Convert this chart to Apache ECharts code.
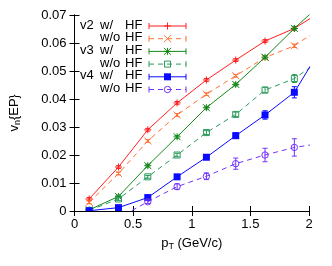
<!DOCTYPE html>
<html>
<head>
<meta charset="utf-8">
<script src="https://cdn.jsdelivr.net/npm/echarts@6/dist/echarts.min.js"></script>
<style>html,body{margin:0;padding:0;background:#fff}#c{width:332px;height:266px}</style>
</head>
<body>
<div id="c"></div>
<script>
// pT bin centres (last one lies beyond the axis end; only its line segment shows)
const pT = [0.125, 0.375, 0.625, 0.875, 1.125, 1.375, 1.625, 1.875, 2.125];
const v2With    = [0.0043, 0.0157, 0.0290, 0.0386, 0.0468, 0.0539, 0.0607, 0.0652, 0.0718];
const v2Without = [0.0031, 0.0134, 0.0250, 0.0343, 0.0417, 0.0483, 0.0548, 0.0590, 0.0660];
const v3With    = [0.0004, 0.0052, 0.0162, 0.0265, 0.0369, 0.0452, 0.0549, 0.0652, 0.0748];
const v3Without = [0.0002, 0.0043, 0.0122, 0.0200, 0.0280, 0.0345, 0.0432, 0.0473, 0.0547];
const v4With    = [0.0001, 0.0012, 0.0048, 0.0122, 0.0192, 0.0269, 0.0343, 0.0424, 0.0596];
const v4Without = [-0.0040, -0.0025, 0.0033, 0.0087, 0.0124, 0.0169, 0.0200, 0.0227, 0.0243];
const v2WithErr    = [0.0005, 0.0005, 0.0005, 0.0005, 0.0005, 0.0005, 0.0005, 0.0006, 0.0006];
const v2WithoutErr = [0.0005, 0.0005, 0.0005, 0.0005, 0.0005, 0.0005, 0.0005, 0.0006, 0.0006];
const v3WithErr    = [0.0004, 0.0005, 0.0005, 0.0005, 0.0005, 0.0005, 0.0005, 0.0006, 0.0006];
const v3WithoutErr = [0.0003, 0.0005, 0.0005, 0.0006, 0.0007, 0.0008, 0.0010, 0.0014, 0.0014];
const v4WithErr    = [0.0002, 0.0003, 0.0004, 0.0005, 0.0007, 0.0010, 0.0015, 0.0020, 0.0020];
const v4WithoutErr = [0.0003, 0.0004, 0.0006, 0.0010, 0.0012, 0.0020, 0.0024, 0.0031, 0.0031];
const harmonics = ['v2', '', 'v3', '', 'v4', ''];
const conditions = ['w/', 'w/o', 'w/', 'w/o', 'w/', 'w/o'];
const yTicks = [0, 0.01, 0.02, 0.03, 0.04, 0.05, 0.06, 0.07];
const xTicks = [0, 0.5, 1, 1.5, 2];

const FONT = 'Liberation Sans';
const FS = 13;
const seriesDefs = [
  {vals: v2With,    errs: v2WithErr,    color: '#ff1f1f', dashed: false, marker: 'plus'},
  {vals: v2Without, errs: v2WithoutErr, color: '#ff7033', dashed: true,  marker: 'cross'},
  {vals: v3With,    errs: v3WithErr,    color: '#15891a', dashed: false, marker: 'star'},
  {vals: v3Without, errs: v3WithoutErr, color: '#2a9a5c', dashed: true,  marker: 'osquare'},
  {vals: v4With,    errs: v4WithErr,    color: '#0a0aff', dashed: false, marker: 'fsquare'},
  {vals: v4Without, errs: v4WithoutErr, color: '#7233ff', dashed: true,  marker: 'ocircle'}
];

function markerShapes(type, cx, cy, color) {
  const st = {stroke: color, lineWidth: 1, fill: null};
  const h = 3.5;
  const ln = (x1, y1, x2, y2) => ({type: 'line', shape: {x1, y1, x2, y2}, style: st});
  const plus = [ln(cx - h, cy, cx + h, cy), ln(cx, cy - h, cx, cy + h)];
  const cross = [ln(cx - h, cy - h, cx + h, cy + h), ln(cx - h, cy + h, cx + h, cy - h)];
  switch (type) {
    case 'plus': return plus;
    case 'cross': return cross;
    case 'star': return plus.concat(cross);
    case 'osquare': return [{type: 'rect', shape: {x: cx - 3, y: cy - 3, width: 6, height: 6}, style: st}];
    case 'fsquare': return [{type: 'rect', shape: {x: cx - 3.5, y: cy - 3.5, width: 7, height: 7}, style: {fill: color}}];
    case 'ocircle': return [{type: 'circle', shape: {cx, cy, r: 3.2}, style: st}];
  }
  return [];
}

const series = [];
seriesDefs.forEach((d) => {
  series.push({
    type: 'line',
    data: pT.map((x, i) => [x, d.vals[i]]),
    symbol: 'none',
    clip: true,
    lineStyle: {color: d.color, width: 1, type: d.dashed ? [5, 4] : 'solid'},
    silent: true,
    z: 2
  });
  series.push({
    type: 'custom',
    clip: true,
    data: pT.map((x, i) => [x, d.vals[i], d.errs[i]]).filter(p => p[0] <= 2 && p[1] >= 0),
    renderItem: function (params, api) {
      const x = api.value(0), y = api.value(1), e = api.value(2);
      const c = api.coord([x, y]);
      const t = api.coord([x, y + e]);
      const b = api.coord([x, y - e]);
      const st = {stroke: d.color, lineWidth: 1};
      const kids = [
        {type: 'line', shape: {x1: c[0], y1: t[1], x2: c[0], y2: b[1]}, style: st},
        {type: 'line', shape: {x1: c[0] - 2.5, y1: t[1], x2: c[0] + 2.5, y2: t[1]}, style: st},
        {type: 'line', shape: {x1: c[0] - 2.5, y1: b[1], x2: c[0] + 2.5, y2: b[1]}, style: st}
      ].concat(markerShapes(d.marker, c[0], c[1], d.color));
      return {type: 'group', children: kids};
    },
    silent: true,
    z: 3
  });
});

// legend (gnuplot style key)
const legendRowsY = [26, 38.7, 51.4, 64.1, 76.8, 89.5];
const graphics = [];
seriesDefs.forEach((d, i) => {
  const y = legendRowsY[i];
  const tst = {fill: '#000', font: FS + 'px "' + FONT + '"', textVerticalAlign: 'middle', verticalAlign: 'middle'};
  if (harmonics[i]) graphics.push({type: 'text', left: 80, top: y - 7.5, style: Object.assign({text: harmonics[i]}, tst)});
  graphics.push({type: 'text', left: 100, top: y - 7.5, style: Object.assign({text: conditions[i]}, tst)});
  graphics.push({type: 'text', left: 125, top: y - 7.5, style: Object.assign({text: 'HF'}, tst)});
  const st = {stroke: d.color, lineWidth: 1, lineDash: d.dashed ? [5, 4] : null};
  const cst = {stroke: d.color, lineWidth: 1};
  const kids = [
    {type: 'line', shape: {x1: 149, y1: y, x2: 186, y2: y}, style: st},
    {type: 'line', shape: {x1: 149, y1: y - 3, x2: 149, y2: y + 3}, style: cst},
    {type: 'line', shape: {x1: 186, y1: y - 3, x2: 186, y2: y + 3}, style: cst}
  ].concat(markerShapes(d.marker, 167.5, y, d.color));
  graphics.push({type: 'group', children: kids, z: 10});
});

const chart = echarts.init(document.getElementById('c'), null, {renderer: 'canvas'});
const axisCommon = {
  type: 'value',
  axisLine: {show: true, lineStyle: {color: '#000', width: 1}},
  axisTick: {show: true, inside: true, length: 5, lineStyle: {color: '#000'}},
  splitLine: {show: false}
};
chart.setOption({
  animation: false,
  backgroundColor: '#fff',
  grid: {left: 71, right: 23, top: 15, bottom: 55, containLabel: false},
  xAxis: [
    Object.assign({}, axisCommon, {
      min: xTicks[0], max: xTicks[xTicks.length - 1], interval: 0.5, position: 'bottom',
      axisLabel: {color: '#000', fontSize: FS, fontFamily: FONT, margin: 7,
        formatter: v => String(+v.toFixed(2))},
      name: '{a|p}{s|T}{a| (GeV/c)}', nameLocation: 'middle', nameGap: 24,
      nameTextStyle: {color: '#000', fontFamily: FONT,
        rich: {a: {fontSize: FS, fontFamily: FONT, color: '#000'},
               s: {fontSize: 9, fontFamily: FONT, color: '#000', padding: [7, 0, 0, 0]}}}
    }),
    Object.assign({}, axisCommon, {
      min: xTicks[0], max: xTicks[xTicks.length - 1], interval: 0.5, position: 'top',
      axisLabel: {show: false}
    })
  ],
  yAxis: [
    Object.assign({}, axisCommon, {
      min: yTicks[0], max: yTicks[yTicks.length - 1], interval: 0.01, position: 'left',
      axisLabel: {color: '#000', fontSize: FS, fontFamily: FONT, margin: 8,
        formatter: v => String(+v.toFixed(3))},
      name: '{a|v}{s|n}{a|\u007BEP\u007D}', nameLocation: 'middle', nameGap: 52, nameRotate: 90,
      nameTextStyle: {color: '#000', fontFamily: FONT,
        rich: {a: {fontSize: FS, fontFamily: FONT, color: '#000'},
               s: {fontSize: 9, fontFamily: FONT, color: '#000', padding: [7, 0, 0, 0]}}}
    }),
    Object.assign({}, axisCommon, {
      min: yTicks[0], max: yTicks[yTicks.length - 1], interval: 0.01, position: 'right',
      axisLabel: {show: false}
    })
  ],
  series: series,
  graphic: graphics
});
</script>
</body>
</html>
